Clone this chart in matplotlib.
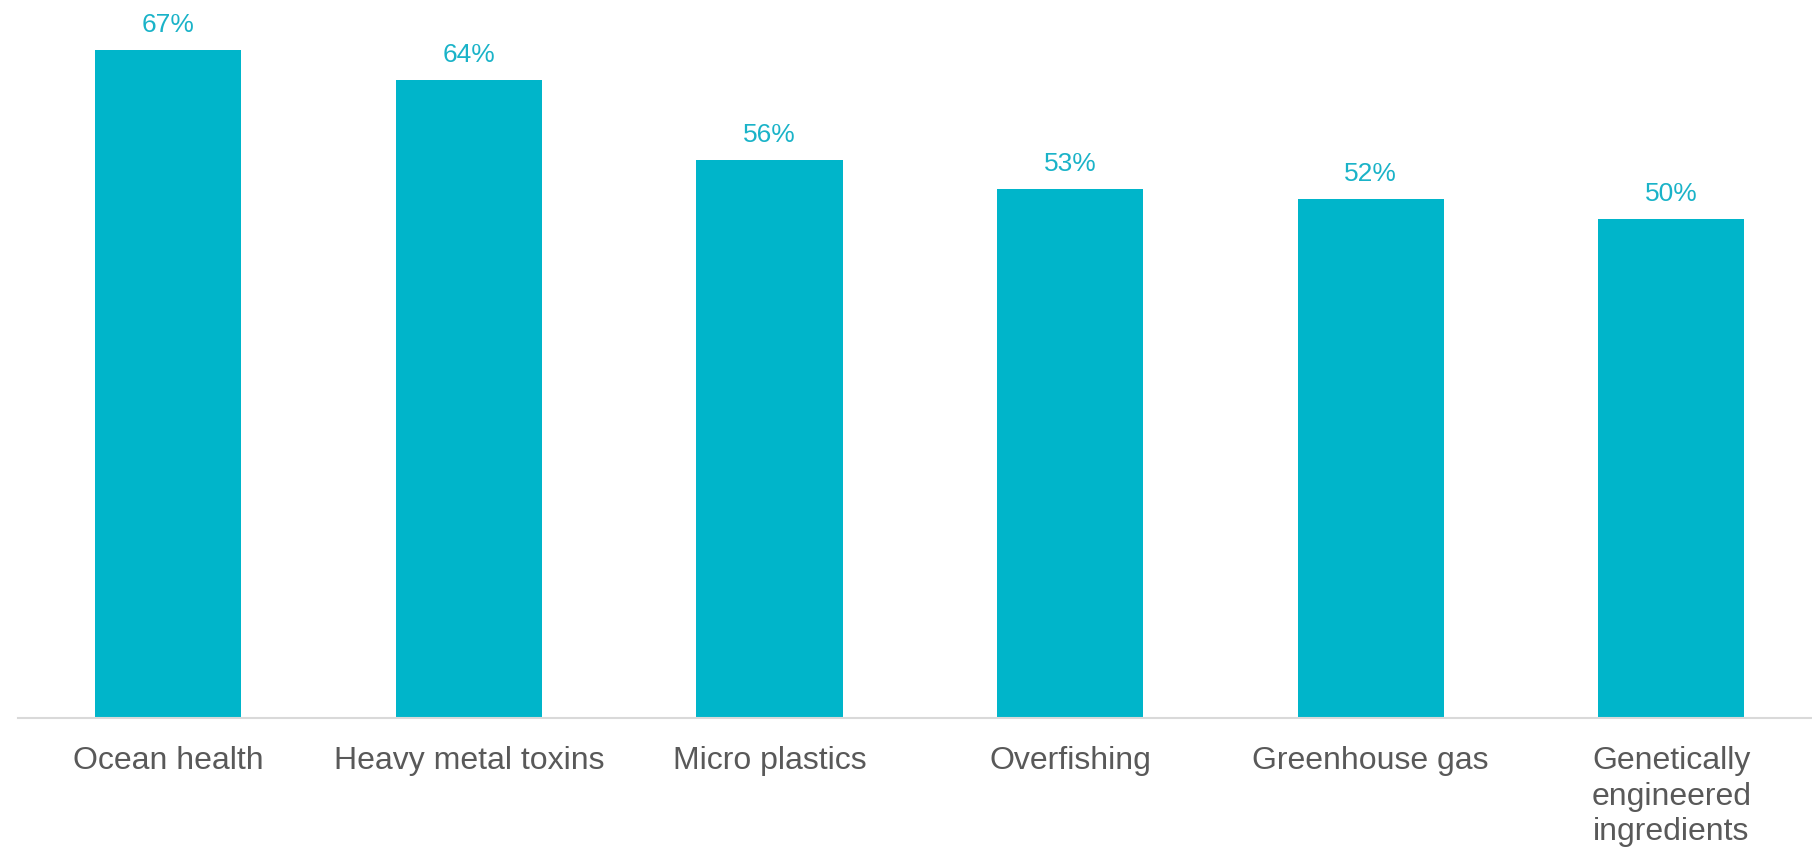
import matplotlib
matplotlib.use("Agg")
import matplotlib.pyplot as plt

# Data
categories = ["Ocean health", "Heavy metal toxins", "Micro plastics",
              "Overfishing", "Greenhouse gas",
              "Genetically\nengineered\ningredients"]
shares = [67, 64, 56, 53, 52, 50]

bar_color = "#00B5CA"
label_color = "#1AB3C8"
text_gray = "#595959"

plt.rcParams["font.family"] = ["Liberation Sans", "DejaVu Sans"]

fig = plt.figure(figsize=(18.12, 8.51), dpi=100)
ax = fig.add_axes([18 / 1812, 133 / 851, 1794 / 1812, 718 / 851])

x = range(len(categories))
bars = ax.bar(x, shares, width=0.486, color=bar_color)

# value labels above each bar
for rect, v in zip(bars, shares):
    ax.annotate(f"{v}%", (rect.get_x() + rect.get_width() / 2, rect.get_height()),
                xytext=(0, 18), textcoords="offset pixels",
                ha="center", va="baseline", fontsize=19, color=label_color)

ax.set_xlim(-0.5, 5.468)
ax.set_ylim(0, 72)
ax.set_xticks(list(x))
ax.set_xticklabels(categories, fontsize=23, color=text_gray, linespacing=1.25)
ax.tick_params(axis="x", length=0, pad=20)
ax.set_yticks([])

for side in ["top", "right", "left"]:
    ax.spines[side].set_visible(False)
ax.spines["bottom"].set_color("#D9D9D9")
ax.spines["bottom"].set_linewidth(1.5)

fig.savefig("out.png", dpi=100)
